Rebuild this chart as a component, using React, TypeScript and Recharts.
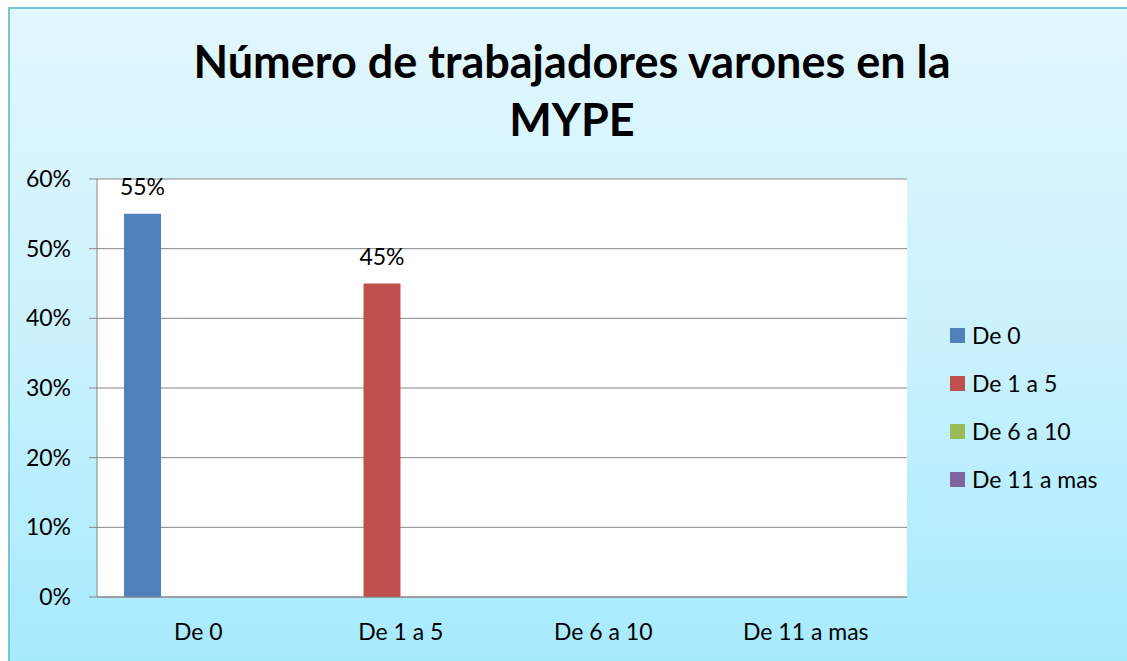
import { Bar, BarChart, CartesianGrid, LabelList, XAxis, YAxis } from "recharts";

const categories = ["De 0", "De 1 a 5", "De 6 a 10", "De 11 a mas"];
const seriesNames = ["De 0", "De 1 a 5", "De 6 a 10", "De 11 a mas"];
// one value per category; each series only shows in its own category
const percentages = [55, 45, 0, 0];
const yTicks = [0, 10, 20, 30, 40, 50, 60];

const COLORS = ["#4F81BD", "#C0504D", "#9BBB59", "#8064A2"];
const FONT = "Lato, 'Open Sans', sans-serif";
const axisGray = "#868686";

const data = categories.map((name, i) => {
  const row: Record<string, string | number> = { name };
  seriesNames.forEach((_, j) => {
    row[`s${j}`] = i === j ? percentages[i] : 0;
  });
  return row;
});

function LegendBox() {
  return (
    <div style={{ position: "absolute", left: 950, top: 311, fontFamily: FONT, fontSize: 23, color: "#000" }}>
      {seriesNames.map((s, i) => (
        <div key={s} style={{ display: "flex", alignItems: "center", height: 48 }}>
          <span style={{ width: 15, height: 15, background: COLORS[i], marginRight: 7 }} />
          <span>{s}</span>
        </div>
      ))}
    </div>
  );
}

export default function App() {
  return (
    <div style={{ position: "absolute", left: 0, top: 0, width: 1127, height: 661, background: "#fff", overflow: "hidden" }}>
      <div
        style={{
          position: "absolute",
          left: 8,
          top: 7,
          width: 1140,
          height: 680,
          border: "2px solid #74C6D8",
          background: "linear-gradient(to bottom, #E2F7FE 0%, #CDF2FD 45%, #A3EAFD 100%)",
        }}
      />
      <div
        style={{
          position: "absolute",
          left: 0,
          top: 32,
          width: 1144,
          textAlign: "center",
          fontFamily: FONT,
          fontWeight: 700,
          fontSize: 45,
          lineHeight: "58px",
          color: "#000",
        }}
      >
        Número de trabajadores varones en la
        <br />
        MYPE
      </div>
      <div style={{ position: "absolute", left: 0, top: 0 }}>
        <BarChart
          width={1127}
          height={661}
          data={data}
          margin={{ top: 179, right: 220, bottom: 20, left: 37 }}
          barGap={0}
          barCategoryGap={27}
        >
          <CartesianGrid vertical={false} stroke={axisGray} fill="#fff" />
          <XAxis
            dataKey="name"
            stroke={axisGray}
            tickLine={false}
            tickSize={0}
            tickMargin={27}
            height={44}
            tick={{ fill: "#000", fontSize: 23, fontFamily: FONT }}
          />
          <YAxis
            domain={[0, 60]}
            ticks={yTicks}
            width={60}
            stroke={axisGray}
            tickSize={8}
            tickMargin={18}
            tickFormatter={(v: number) => `${v}%`}
            tick={{ fill: "#000", fontSize: 23, fontFamily: FONT }}
          />
          {seriesNames.map((s, i) => (
            <Bar key={s} dataKey={`s${i}`} name={s} fill={COLORS[i]} isAnimationActive={false}>
              <LabelList
                dataKey={`s${i}`}
                position="top"
                offset={19}
                formatter={(v: any) => (v ? `${v}%` : "")}
                style={{ fill: "#000", fontSize: 23, fontFamily: FONT }}
              />
            </Bar>
          ))}
        </BarChart>
      </div>
      <LegendBox />
    </div>
  );
}
